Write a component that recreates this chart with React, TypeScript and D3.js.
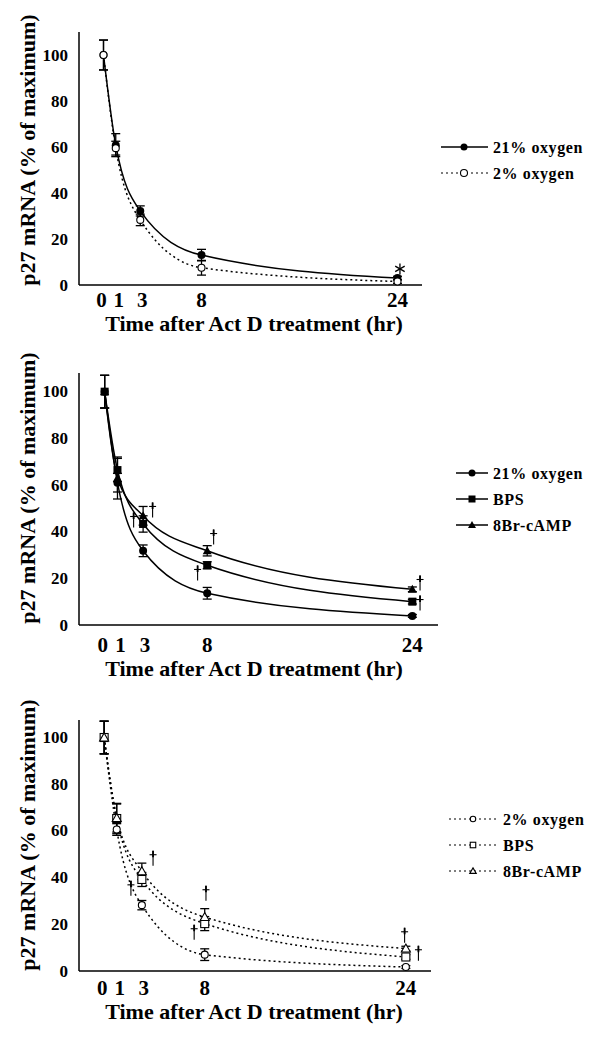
import React from "react";
import * as d3 from "d3";

const hours = [0, 1, 3, 8, 24];
const xTicks = [0, 1, 3, 8, 24];
const yTicks = [0, 20, 40, 60, 80, 100];

// panel A: 21% vs 2% oxygen
const a21Mean = [100, 60.8, 32.2, 13, 3];
const a21Err = [6.5, 5, 2.2, 2.5, 0.8];
const a2Mean = [100, 59.5, 28.3, 7.5, 1.5];
const a2Err = [6.5, 3, 2.5, 3.2, 0.8];

// panel B: 21% oxygen, BPS, 8Br-cAMP
const b21Mean = [100, 61, 31.8, 13.6, 3.9];
const b21Err = [7, 4, 2.5, 2.5, 0.6];
const bBpsMean = [100, 66.4, 43.3, 25.6, 10];
const bBpsErr = [7, 5, 3.5, 1.5, 1];
const bCampMean = [100, 63, 46.8, 31.8, 15.3];
const bCampErr = [7, 9, 4, 2.2, 1];

// panel C: 2% oxygen, BPS, 8Br-cAMP
const c2Mean = [100, 60.6, 28.2, 7, 1.7];
const c2Err = [7, 2.5, 2, 2.5, 0.6];
const cBpsMean = [100, 65.3, 39.2, 20.3, 6];
const cBpsErr = [7, 6.5, 3, 3, 1];
const cCampMean = [100, 65.5, 42.7, 23.1, 9.6];
const cCampErr = [7, 6, 3.5, 3.6, 1];

// significance marks (hour, value)
const aMarkHours = [24.2];
const aMarkValues = [7];
const bMarkHours = [2.26, 3.74, 8.5, 7.25, 24.6, 24.6];
const bMarkValues = [45, 49.3, 37.7, 22.3, 18, 9.4];
const cMarkHours = [2.13, 3.89, 8.1, 7.16, 23.9, 25.0];
const cMarkValues = [35.4, 48.3, 33.3, 16.6, 15.3, 7.6];

const FONT = "'Liberation Serif', 'Times New Roman', serif";

type Shape = "circle" | "square" | "triangle";

interface Series {
  name: string;
  mean: number[];
  err: number[];
  shape: Shape;
  open: boolean;
  dashed: boolean;
}

function Marker({ shape, open, x, y, s }: { shape: Shape; open: boolean; x: number; y: number; s: number }) {
  const fill = open ? "#fff" : "#000";
  const sw = open ? 1.1 : 0;
  if (shape === "circle") return <circle cx={x} cy={y} r={s / 2} fill={fill} stroke="#000" strokeWidth={sw} />;
  if (shape === "square")
    return <rect x={x - s / 2} y={y - s / 2} width={s} height={s} fill={fill} stroke="#000" strokeWidth={sw} />;
  const h = s * 0.95;
  return (
    <path
      d={`M${x},${y - h * 0.6}L${x + s / 2 + 0.5},${y + h * 0.45}L${x - s / 2 - 0.5},${y + h * 0.45}Z`}
      fill={fill}
      stroke="#000"
      strokeWidth={sw}
    />
  );
}

// dagger drawn as strokes so it stays crisp black
function Dagger({ x, y }: { x: number; y: number }) {
  return (
    <g stroke="#000" fill="none">
      <line x1={x} x2={x} y1={y - 7.5} y2={y + 7.5} strokeWidth={1.1} />
      <line x1={x} x2={x} y1={y - 7.5} y2={y - 1} strokeWidth={1.8} />
      <line x1={x - 3.5} x2={x + 3.5} y1={y - 3.5} y2={y - 3.5} strokeWidth={1.1} />
    </g>
  );
}

function Asterisk({ x, y }: { x: number; y: number }) {
  const r = 5.5;
  return (
    <g stroke="#000" strokeWidth={1.3}>
      {[90, 30, -30].map((a) => {
        const dx = r * Math.cos((a * Math.PI) / 180);
        const dy = r * Math.sin((a * Math.PI) / 180);
        return <line key={a} x1={x - dx} x2={x + dx} y1={y - dy} y2={y + dy} />;
      })}
    </g>
  );
}

interface PanelProps {
  series: Series[];
  xRange: [number, number];
  yRange: [number, number];
  yMax: number;
  tickBase: number;
  titleBase: number;
  yLabelY: number;
  legend: { x0: number; x1: number; mx: number; tx: number; y0: number; dy: number; ms: number };
  markHours: number[];
  markValues: number[];
  markChar: string;
}

function Panel(p: PanelProps) {
  const x = d3.scaleLinear().domain([-2, 26]).range(p.xRange);
  const y = d3.scaleLinear().domain([0, p.yMax]).range(p.yRange);
  const line = d3
    .line<number>()
    .x((_, i) => x(hours[i]))
    .y((d) => y(d))
    .curve(d3.curveMonotoneX);
  const x0 = p.xRange[0];
  const yBottom = p.yRange[0];
  const yTop = p.yRange[1];
  return (
    <g>
      {/* axes */}
      <line x1={x0} x2={x0} y1={yTop} y2={yBottom} stroke="#000" strokeWidth={1.5} />
      <line x1={x0} x2={p.xRange[1]} y1={yBottom} y2={yBottom} stroke="#000" strokeWidth={1.5} />
      {yTicks.map((t) => (
        <text
          key={`yt-${t}`}
          x={x0 - 11}
          y={y(t)}
          textAnchor="end"
          dominantBaseline="central"
          fontFamily={FONT}
          fontWeight="bold"
          fontSize={17}
        >
          {t}
        </text>
      ))}
      {xTicks.map((t, i) => (
        <text
          key={`xt-${t}`}
          x={x(t) + (i === 0 ? -2 : i === 1 ? 3 : i === 2 ? 2 : 0)}
          y={p.tickBase}
          textAnchor="middle"
          fontFamily={FONT}
          fontWeight="bold"
          fontSize={21}
        >
          {t}
        </text>
      ))}
      <text x={254} y={p.titleBase} textAnchor="middle" fontFamily={FONT} fontWeight="bold" fontSize={22}>
        Time after Act D treatment (hr)
      </text>
      <text
        transform={`translate(27,${p.yLabelY}) rotate(-90)`}
        textAnchor="middle"
        dominantBaseline="central"
        fontFamily={FONT}
        fontWeight="bold"
        fontSize={22}
      >
        p27 mRNA (% of maximum)
      </text>

      {/* curves */}
      {p.series.map((s) => (
        <path
          key={`l-${s.name}`}
          d={line(s.mean) ?? ""}
          fill="none"
          stroke="#000"
          strokeWidth={1.5}
          strokeDasharray={s.dashed ? "2,3" : undefined}
        />
      ))}

      {/* error bars */}
      {p.series.map((s) =>
        s.mean.map((m, i) => {
          const cx = x(hours[i]);
          const t = y(m + s.err[i]);
          const b = y(Math.max(0, m - s.err[i]));
          return (
            <g key={`e-${s.name}-${i}`} stroke="#000" strokeWidth={1.3}>
              <line x1={cx} x2={cx} y1={t} y2={b} />
              <line x1={cx - 4.5} x2={cx + 4.5} y1={t} y2={t} />
              <line x1={cx - 4.5} x2={cx + 4.5} y1={b} y2={b} />
            </g>
          );
        })
      )}

      {/* markers */}
      {p.series.map((s) =>
        s.mean.map((m, i) => (
          <Marker
            key={`m-${s.name}-${i}`}
            shape={s.shape}
            open={s.open}
            x={x(hours[i])}
            y={y(m)}
            s={s.shape === "circle" ? (s.open ? 7 : 8) : 8}
          />
        ))
      )}

      {/* significance marks */}
      {p.markHours.map((h, i) =>
        p.markChar === "*" ? (
          <Asterisk key={`mk-${i}`} x={x(h)} y={y(p.markValues[i])} />
        ) : (
          <Dagger key={`mk-${i}`} x={x(h)} y={y(p.markValues[i])} />
        )
      )}

      {/* legend */}
      {p.series.map((s, i) => {
        const ly = p.legend.y0 + i * p.legend.dy;
        return (
          <g key={`lg-${s.name}`}>
            <line
              x1={p.legend.x0}
              x2={p.legend.x1}
              y1={ly}
              y2={ly}
              stroke="#000"
              strokeWidth={s.dashed ? 1.2 : 1.5}
              strokeDasharray={s.dashed ? "2,3" : undefined}
            />
            <Marker shape={s.shape} open={s.open} x={p.legend.mx} y={ly} s={p.legend.ms} />
            <text
              x={p.legend.tx}
              y={ly}
              dominantBaseline="central"
              fontFamily={FONT}
              fontWeight="bold"
              fontSize={16}
              letterSpacing={0.6}
            >
              {s.name}
            </text>
          </g>
        );
      })}
    </g>
  );
}

export default function App() {
  const seriesA: Series[] = [
    { name: "21% oxygen", mean: a21Mean, err: a21Err, shape: "circle", open: false, dashed: false },
    { name: "2% oxygen", mean: a2Mean, err: a2Err, shape: "circle", open: true, dashed: true },
  ];
  const seriesB: Series[] = [
    { name: "21% oxygen", mean: b21Mean, err: b21Err, shape: "circle", open: false, dashed: false },
    { name: "BPS", mean: bBpsMean, err: bBpsErr, shape: "square", open: false, dashed: false },
    { name: "8Br-cAMP", mean: bCampMean, err: bCampErr, shape: "triangle", open: false, dashed: false },
  ];
  const seriesC: Series[] = [
    { name: "2% oxygen", mean: c2Mean, err: c2Err, shape: "circle", open: true, dashed: true },
    { name: "BPS", mean: cBpsMean, err: cBpsErr, shape: "square", open: true, dashed: true },
    { name: "8Br-cAMP", mean: cCampMean, err: cCampErr, shape: "triangle", open: true, dashed: true },
  ];
  return (
    <svg
      width={600}
      height={1039}
      viewBox="0 0 600 1039"
      style={{ position: "absolute", left: 0, top: 0, background: "#fff" }}
    >
      <rect width={600} height={1039} fill="#fff" />
      <Panel
        series={seriesA}
        xRange={[79, 422]}
        yRange={[285, 32]}
        yMax={110}
        tickBase={307}
        titleBase={331}
        yLabelY={150}
        legend={{ x0: 441, x1: 488, mx: 464, tx: 493, y0: 147, dy: 26, ms: 7 }}
        markHours={aMarkHours}
        markValues={aMarkValues}
        markChar="*"
      />
      <Panel
        series={seriesB}
        xRange={[79, 438]}
        yRange={[625, 373]}
        yMax={108}
        tickBase={652}
        titleBase={676}
        yLabelY={488}
        legend={{ x0: 456, x1: 488, mx: 472, tx: 493, y0: 473, dy: 26, ms: 7 }}
        markHours={bMarkHours}
        markValues={bMarkValues}
        markChar="†"
      />
      <Panel
        series={seriesC}
        xRange={[79, 431]}
        yRange={[971, 720]}
        yMax={107.5}
        tickBase={995}
        titleBase={1019}
        yLabelY={835}
        legend={{ x0: 449, x1: 498, mx: 473, tx: 503, y0: 819, dy: 26, ms: 5.5 }}
        markHours={cMarkHours}
        markValues={cMarkValues}
        markChar="†"
      />
    </svg>
  );
}
